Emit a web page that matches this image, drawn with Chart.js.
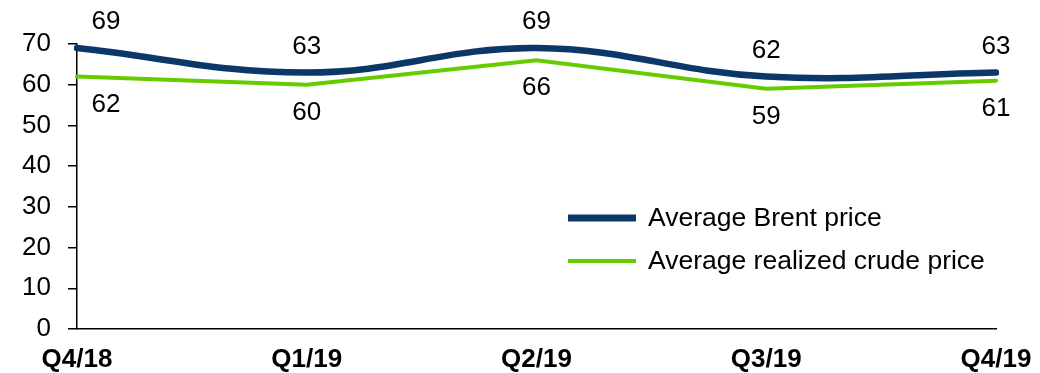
<!DOCTYPE html>
<html>
<head>
<meta charset="utf-8">
<script src="https://cdn.jsdelivr.net/npm/chart.js@4/dist/chart.umd.min.js"></script>
<style>
  html, body { margin: 0; padding: 0; background: #fff; }
  #wrap { width: 1040px; height: 373px; }
</style>
</head>
<body>
<div id="wrap"><canvas id="priceChart" width="1040" height="373"></canvas></div>
<script>
const quarters = ["Q4/18", "Q1/19", "Q2/19", "Q3/19", "Q4/19"];
const brentPrice = [69, 63, 69, 62, 63];
const realizedPrice = [62, 60, 66, 59, 61];
const yTicks = [0, 10, 20, 30, 40, 50, 60, 70];

const BLUE = "#0b3868";
const GREEN = "#66cc00";
const FONT = "'Liberation Sans', Arial, sans-serif";

// value labels: Brent above the line, realized below
const valueLabels = {
  id: "valueLabels",
  afterDatasetsDraw(chart) {
    const ctx = chart.ctx;
    ctx.save();
    ctx.font = "26px " + FONT;
    ctx.fillStyle = "#000";
    ctx.textAlign = "center";
    ctx.textBaseline = "middle";
    chart.data.datasets.forEach((ds, di) => {
      const meta = chart.getDatasetMeta(di);
      const dy = di === 0 ? -27 : 27;
      meta.data.forEach((pt, i) => {
        const dx = i === 0 ? 29 : 0;
        ctx.fillText(String(ds.data[i]), pt.x + dx, pt.y + dy + 1);
      });
    });
    ctx.restore();
  }
};

// legend drawn inside the plot, lower right
const lineLegend = {
  id: "lineLegend",
  afterDraw(chart) {
    const ctx = chart.ctx;
    ctx.save();
    ctx.font = "26.5px " + FONT;
    ctx.fillStyle = "#000";
    ctx.textBaseline = "middle";
    const rows = [
      { label: "Average Brent price", color: BLUE, width: 7, y: 218 },
      { label: "Average realized crude price", color: GREEN, width: 4, y: 261 }
    ];
    rows.forEach(r => {
      ctx.strokeStyle = r.color;
      ctx.lineWidth = r.width;
      ctx.beginPath();
      ctx.moveTo(568, r.y);
      ctx.lineTo(636, r.y);
      ctx.stroke();
      ctx.fillText(r.label, 648, r.y + 1);
    });
    ctx.restore();
  }
};

new Chart(document.getElementById("priceChart"), {
  type: "line",
  data: {
    labels: quarters,
    datasets: [
      {
        label: "Average Brent price",
        data: brentPrice,
        borderColor: BLUE,
        borderWidth: 6.5,
        borderCapStyle: "round",
        tension: 0.4,
        pointRadius: 0,
        fill: false
      },
      {
        label: "Average realized crude price",
        data: realizedPrice,
        borderColor: GREEN,
        borderWidth: 4,
        borderCapStyle: "round",
        tension: 0,
        pointRadius: 0,
        fill: false
      }
    ]
  },
  options: {
    responsive: false,
    animation: false,
    layout: { padding: { left: 0, right: 44, top: 44, bottom: 0 } },
    plugins: {
      legend: { display: false },
      tooltip: { enabled: false }
    },
    scales: {
      x: {
        offset: false,
        grid: { display: false, drawTicks: false },
        border: { display: true, color: "#000", width: 1.5 },
        ticks: {
          color: "#000",
          font: { family: FONT, size: 26, weight: "bold" },
          padding: 15,
          maxRotation: 0,
          autoSkip: false
        },
        afterFit(scale) {
          scale.height = 44;
          scale.paddingLeft = 0;
          scale.paddingRight = 0;
        }
      },
      y: {
        min: 0,
        max: 70,
        afterBuildTicks(scale) { scale.ticks = yTicks.map(v => ({ value: v })); },
        grid: { drawOnChartArea: false, drawTicks: true, tickLength: 9, color: "#000", lineWidth: 1.5 },
        border: { display: true, color: "#000", width: 1.5 },
        ticks: {
          color: "#000",
          font: { family: FONT, size: 26 },
          padding: 17
        },
        afterFit(scale) { scale.width = 77; }
      }
    }
  },
  plugins: [valueLabels, lineLegend]
});
</script>
</body>
</html>
